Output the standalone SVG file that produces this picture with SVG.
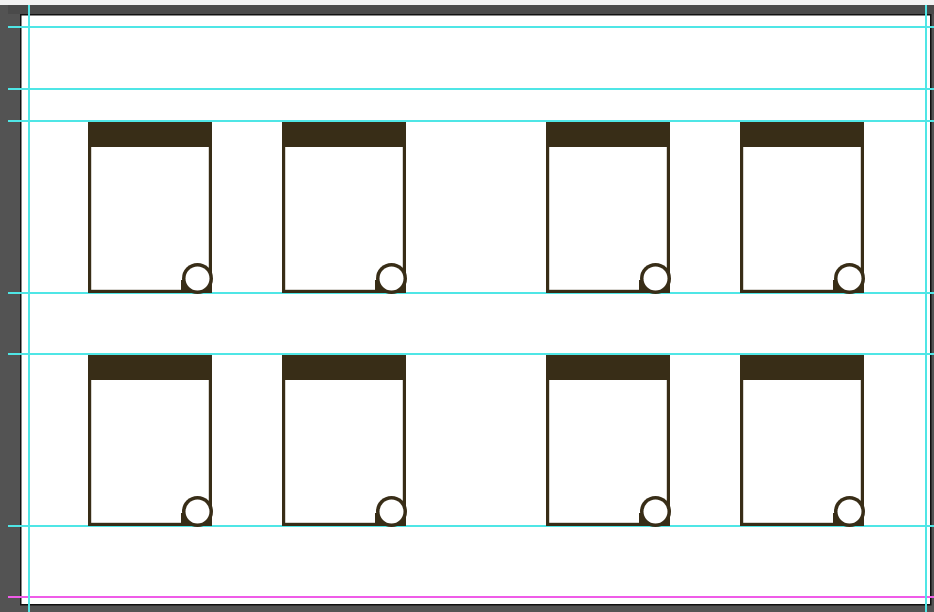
<svg xmlns="http://www.w3.org/2000/svg" xmlns:xlink="http://www.w3.org/1999/xlink" width="934" height="612" viewBox="0 0 934 612">
  <style>
    .frame{fill:#535353}
    .page{fill:#ffffff;stroke:#111111;stroke-width:1.5}
    .guide{stroke:#4fe6e6;stroke-width:1.2;shape-rendering:crispEdges}
    .guide-m{stroke:#ef5ce8;stroke-width:1.2;shape-rendering:crispEdges}
    .body{fill:#ffffff;stroke:#382d17;stroke-width:3.2}
    .dark{fill:#382d17}
    .knob{fill:#ffffff}
  </style>
  <defs>
    <g id="card">
      <rect class="body" x="1.6" y="1.6" width="120.8" height="167.8"/>
      <rect class="dark" x="0" y="0" width="124" height="25"/>
      <rect class="dark" x="93" y="158" width="31" height="13"/>
      <circle class="dark" cx="109.5" cy="156.5" r="15.5"/>
      <circle class="knob" cx="109.5" cy="156.5" r="12"/>
    </g>
  </defs>
  <rect class="frame" x="0" y="0" width="934" height="612"/>
  <rect x="0" y="0" width="934" height="5" fill="#f2f2f2"/>
  <rect x="8" y="5" width="926" height="9" fill="#4a4a4a"/>
  <rect class="page" x="20.75" y="14.75" width="910" height="590"/>
  <g id="guides">
    <line class="guide" x1="8" y1="27" x2="934" y2="27"/>
    <line class="guide" x1="8" y1="89" x2="934" y2="89"/>
    <line class="guide" x1="8" y1="121" x2="934" y2="121"/>
    <line class="guide" x1="8" y1="293" x2="934" y2="293"/>
    <line class="guide" x1="8" y1="354" x2="934" y2="354"/>
    <line class="guide" x1="8" y1="526" x2="934" y2="526"/>
    <line class="guide-m" x1="8" y1="597" x2="934" y2="597"/>
    <line class="guide" x1="29" y1="5" x2="29" y2="612"/>
    <line class="guide" x1="926" y1="5" x2="926" y2="612"/>
  </g>
  <g id="card-r1c1" transform="translate(88,122)"><use xlink:href="#card"/></g>
  <g id="card-r1c2" transform="translate(282,122)"><use xlink:href="#card"/></g>
  <g id="card-r1c3" transform="translate(546,122)"><use xlink:href="#card"/></g>
  <g id="card-r1c4" transform="translate(740,122)"><use xlink:href="#card"/></g>
  <g id="card-r2c1" transform="translate(88,355)"><use xlink:href="#card"/></g>
  <g id="card-r2c2" transform="translate(282,355)"><use xlink:href="#card"/></g>
  <g id="card-r2c3" transform="translate(546,355)"><use xlink:href="#card"/></g>
  <g id="card-r2c4" transform="translate(740,355)"><use xlink:href="#card"/></g>
  <g id="connectors"/>
</svg>
